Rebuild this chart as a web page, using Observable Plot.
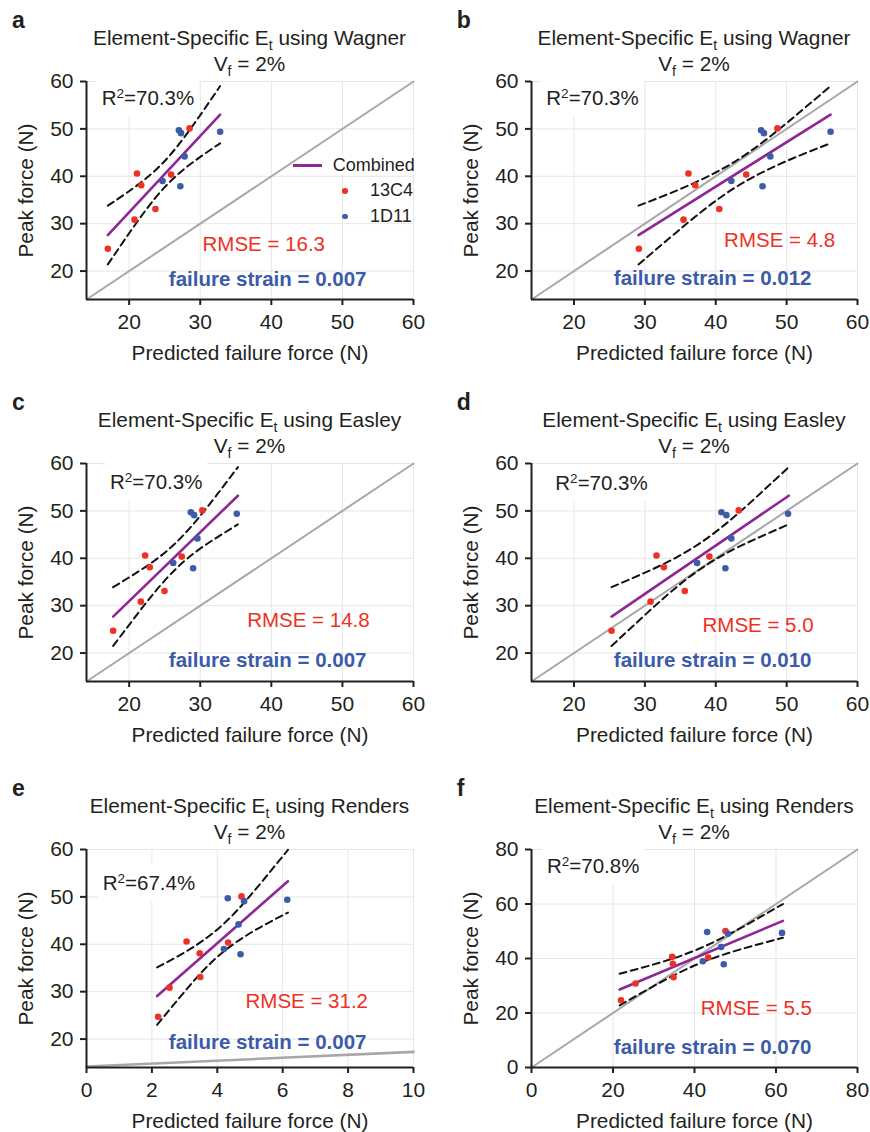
<!DOCTYPE html>
<html><head><meta charset="utf-8">
<script src="https://cdn.jsdelivr.net/npm/d3@7"></script>
<script src="https://cdn.jsdelivr.net/npm/@observablehq/plot@0.6"></script>
<style>
body{margin:0;background:#fff;font-family:"Liberation Sans",Arial,Helvetica,sans-serif;color:#231f20}
#fig{position:relative;width:870px;height:1132px;overflow:hidden;background:#fff}
.abs{position:absolute;white-space:nowrap}
.lbl{font-weight:bold;font-size:23px;line-height:23px}
.ttl{font-size:20.8px;line-height:21px;transform:translateX(-50%)}
.r2{font-size:20.5px;line-height:20px;background:#fff;padding:9px 5px 8px 5px}
.leg{font-size:18px;line-height:18px}
sub{font-size:0.68em;line-height:0;vertical-align:-0.32em}
sup{font-size:0.66em;line-height:0;vertical-align:0.5em}
</style></head><body><div id="fig"></div>
<script>
// ---- shared measured peak force (y) ----
const peak13C4 = [24.7, 30.85, 40.6, 38.1, 33.1, 40.35, 50.1];
const peak1D11 = [39.0, 37.9, 44.2, 49.7, 49.1, 49.4];

// ---- predicted failure force (x) per panel ----
const predA13C4 = [17.0, 20.75, 21.1, 21.7, 23.7, 25.9, 28.5];
const predA1D11 = [24.7, 27.2, 27.8, 27.0, 27.3, 32.8];
const predB13C4 = [29.15, 35.45, 36.15, 37.1, 40.5, 44.3, 48.7];
const predB1D11 = [42.2, 46.6, 47.7, 46.4, 46.8, 56.2];
const predC13C4 = [17.75, 21.64, 22.25, 22.9, 24.97, 27.4, 30.3];
const predC1D11 = [26.2, 29.0, 29.6, 28.67, 29.14, 35.14];
const predD13C4 = [25.3, 30.8, 31.64, 32.68, 35.63, 39.1, 43.24];
const predD1D11 = [37.37, 41.36, 42.2, 40.8, 41.5, 50.2];
const predE13C4 = [2.19, 2.54, 3.06, 3.46, 3.48, 4.33, 4.74];
const predE1D11 = [4.2, 4.71, 4.65, 4.32, 4.82, 6.14];
const predF13C4 = [21.96, 25.55, 34.53, 34.69, 34.86, 43.35, 47.6];
const predF1D11 = [42.04, 47.18, 46.53, 43.1, 48.2, 61.47];

// ---- combined fit lines ----
const fitAX = [17.0, 32.8], fitAY = [27.6, 53.0];
const fitBX = [29.1, 56.2], fitBY = [27.6, 53.0];
const fitCX = [17.75, 35.3], fitCY = [27.7, 53.2];
const fitDX = [25.3, 50.3], fitDY = [27.7, 53.2];
const fitEX = [2.16, 6.16], fitEY = [29.07, 53.3];
const fitFX = [21.63, 61.7], fitFY = [28.6, 53.8];

// ---- confidence band curves (dashed) ----
const ciAX = [17.0, 19.6, 22.3, 24.9, 27.5, 30.2, 32.8];
const ciAUp = [33.8, 36.44, 39.46, 43.06, 47.73, 53.34, 59.04];
const ciALo = [21.4, 27.12, 32.78, 37.54, 41.23, 44.30, 46.96];
const ciBX = [29.1, 33.6, 38.2, 42.65, 47.1, 51.7, 56.2];
const ciBUp = [33.8, 36.44, 39.46, 43.06, 47.73, 53.34, 59.04];
const ciBLo = [21.4, 27.12, 32.78, 37.54, 41.23, 44.30, 46.96];
const ciCX = [17.75, 20.68, 23.6, 26.53, 29.45, 32.38, 35.3];
const ciCUp = [33.9, 36.61, 39.54, 43.21, 47.95, 53.47, 59.24];
const ciCLo = [21.5, 27.29, 32.86, 37.69, 41.45, 44.43, 47.16];
const ciDX = [25.3, 29.47, 33.63, 37.8, 41.97, 46.13, 50.3];
const ciDUp = [33.9, 36.61, 39.54, 43.21, 47.95, 53.47, 59.24];
const ciDLo = [21.5, 27.29, 32.86, 37.69, 41.45, 44.43, 47.16];
const ciEX = [2.16, 2.83, 3.49, 4.16, 4.83, 5.49, 6.16];
const ciEUp = [35.13, 37.61, 40.44, 44.09, 48.85, 54.25, 59.92];
const ciELo = [23.01, 28.61, 33.86, 38.27, 41.59, 44.27, 46.68];
const ciFX = [21.63, 28.31, 34.99, 41.67, 48.34, 55.02, 61.7];
const ciFUp = [34.4, 37.12, 40.14, 43.94, 48.78, 54.26, 59.99];
const ciFLo = [22.8, 28.48, 33.86, 38.46, 42.02, 44.94, 47.61];

// ---- reference (grey) lines ----
const refAX = [14, 60], refAY = [14, 60];
const refEX = [0, 10], refEY = [14.2, 17.3];
const refFX = [0, 80], refFY = [0, 80];

// ---- axes ----
const domain1460 = [14, 60];
const ticks2060 = [20, 30, 40, 50, 60];
const ticksE = [0, 2, 4, 6, 8, 10];
const ticksF = [0, 20, 40, 60, 80];

// ---- texts ----
const panelLetters = ["a", "b", "c", "d", "e", "f"];
const methods = ["Wagner", "Wagner", "Easley", "Easley", "Renders", "Renders"];
const r2Values = ["70.3%", "70.3%", "70.3%", "70.3%", "67.4%", "70.8%"];
const rmseValues = ["16.3", "4.8", "14.8", "5.0", "31.2", "5.5"];
const strainValues = ["0.007", "0.012", "0.007", "0.010", "0.007", "0.070"];
const seriesNames = ["Combined", "13C4", "1D11"];

// ---- styling ----
const RED = "#ee3124", BLUE = "#3c5ba9", PURPLE = "#8e2795", GREY = "#a7a7a7", INK = "#231f20", GRID = "#e6e6e6";
const FONT = '"Liberation Sans", Arial, Helvetica, sans-serif';

const panels = [
  {p13: predA13C4, p1D: predA1D11, fx: fitAX, fy: fitAY, cx: ciAX, cu: ciAUp, cl: ciALo, rx: refAX, ry: refAY, xd: domain1460, yd: domain1460, xt: ticks2060, yt: ticks2060},
  {p13: predB13C4, p1D: predB1D11, fx: fitBX, fy: fitBY, cx: ciBX, cu: ciBUp, cl: ciBLo, rx: refAX, ry: refAY, xd: domain1460, yd: domain1460, xt: ticks2060, yt: ticks2060},
  {p13: predC13C4, p1D: predC1D11, fx: fitCX, fy: fitCY, cx: ciCX, cu: ciCUp, cl: ciCLo, rx: refAX, ry: refAY, xd: domain1460, yd: domain1460, xt: ticks2060, yt: ticks2060},
  {p13: predD13C4, p1D: predD1D11, fx: fitDX, fy: fitDY, cx: ciDX, cu: ciDUp, cl: ciDLo, rx: refAX, ry: refAY, xd: domain1460, yd: domain1460, xt: ticks2060, yt: ticks2060},
  {p13: predE13C4, p1D: predE1D11, fx: fitEX, fy: fitEY, cx: ciEX, cu: ciEUp, cl: ciELo, rx: refEX, ry: refEY, xd: [0, 10], yd: domain1460, xt: ticksE, yt: ticks2060, refW: 2.6},
  {p13: predF13C4, p1D: predF1D11, fx: fitFX, fy: fitFY, cx: ciFX, cu: ciFUp, cl: ciFLo, rx: refFX, ry: refFY, xd: [0, 80], yd: [0, 80], xt: ticksF, yt: ticksF}
];

// layout (pixels)
const colSvgLeft = [0, 435], colML = [86, 96], colMR = [22, 13];
const rowPlotTop = [81, 463, 849];
const MT = 25, MB = 64, SVGH = 307;
const rmsePos = [[116, 169.7], [192.6, 165.7], [160.7, 163.4], [171, 168.4], [159, 158.4], [169.3, 165.7]];
const strainPos = [[82.3, 204], [82.3, 203], [82.3, 203.4], [82.3, 203.4], [82.3, 199], [82.3, 204]];
const r2Pos = [[15.7, 24], [15.3, 24], [24, 26], [24.3, 26.7], [16.7, 40.7], [16, 24]];

const fig = document.getElementById("fig");
const base = (F, L) => (L - 1.117 * F) / 2 + 0.905 * F;

function addDiv(html, cls, left, top) {
  const d = document.createElement("div");
  d.className = "abs " + cls;
  d.innerHTML = html;
  d.style.left = left + "px";
  d.style.top = top + "px";
  fig.appendChild(d);
  return d;
}

panels.forEach((P, i) => {
  const col = i % 2, row = Math.floor(i / 2);
  const svgLeft = colSvgLeft[col], mL = colML[col], mR = colMR[col];
  const plotTop = rowPlotTop[row];
  const frameLeft = svgLeft + mL;
  const plotW = 435 - mL - mR;
  const cxCenter = frameLeft + plotW / 2;

  const pts = [
    ...P.p13.map((x, k) => ({x, y: peak13C4[k], s: "13C4"})),
    ...P.p1D.map((x, k) => ({x, y: peak1D11[k], s: "1D11"}))
  ];
  const fit = P.fx.map((x, k) => ({x, y: P.fy[k]}));
  const up = P.cx.map((x, k) => ({x, y: P.cu[k]}));
  const lo = P.cx.map((x, k) => ({x, y: P.cl[k]}));
  const ref = P.rx.map((x, k) => ({x, y: P.ry[k]}));

  const svg = Plot.plot({
    width: 435, height: SVGH,
    marginLeft: mL, marginRight: mR, marginTop: MT, marginBottom: MB,
    x: {domain: P.xd},
    y: {domain: P.yd},
    style: {fontFamily: FONT, fontSize: "21px", color: INK, background: "transparent", overflow: "visible"},
    marks: [
      Plot.gridX(P.xt, {stroke: GRID, strokeOpacity: 1, strokeWidth: 1}),
      Plot.gridY(P.yt, {stroke: GRID, strokeOpacity: 1, strokeWidth: 1}),
      Plot.line(ref, {x: "x", y: "y", stroke: GREY, strokeWidth: P.refW || 2}),
      Plot.line(up, {x: "x", y: "y", stroke: "#111", strokeWidth: 2, strokeDasharray: "7,4.5", curve: "natural"}),
      Plot.line(lo, {x: "x", y: "y", stroke: "#111", strokeWidth: 2, strokeDasharray: "7,4.5", curve: "natural"}),
      Plot.line(fit, {x: "x", y: "y", stroke: PURPLE, strokeWidth: 2.6}),
      Plot.dot(pts, {x: "x", y: "y", r: 3.3, fill: d => d.s === "13C4" ? RED : BLUE, stroke: "none"}),
      Plot.ruleX([P.xd[0]], {stroke: INK, strokeWidth: 2}),
      Plot.ruleY([P.yd[0]], {stroke: INK, strokeWidth: 2}),
      Plot.axisX(P.xt, {tickSize: 6, tickPadding: 9, strokeWidth: 2, stroke: INK, label: null}),
      Plot.axisY(P.yt, {tickSize: 6, tickPadding: 7, strokeWidth: 2, stroke: INK, label: null}),
      Plot.text(["Predicted failure force (N)"], {text: d => d, frameAnchor: "bottom", textAnchor: "middle", lineAnchor: "bottom", dy: 60, fontSize: 20.8, fill: INK}),
      Plot.text(["Peak force (N)"], {text: d => d, frameAnchor: "left", textAnchor: "middle", lineAnchor: "bottom", rotate: -90, dx: -54, fontSize: 20.8, fill: INK}),
      Plot.text([`RMSE = ${rmseValues[i]}`], {text: d => d, frameAnchor: "top-left", textAnchor: "start", lineAnchor: "bottom", dx: rmsePos[i][0], dy: rmsePos[i][1], fontSize: 20.5, fill: RED}),
      Plot.text([`failure strain = ${strainValues[i]}`], {text: d => d, frameAnchor: "top-left", textAnchor: "start", lineAnchor: "bottom", dx: strainPos[i][0], dy: strainPos[i][1], fontSize: 20.5, fontWeight: "bold", fill: BLUE})
    ]
  });
  svg.style.position = "absolute";
  svg.style.left = svgLeft + "px";
  svg.style.top = (plotTop - MT) + "px";
  svg.style.maxWidth = "none";
  fig.appendChild(svg);

  // panel letter
  addDiv(panelLetters[i], "lbl", svgLeft + (col ? 21.7 : 12), plotTop - 52.5 - base(23, 23));
  // title lines
  addDiv(`Element-Specific E<sub>t</sub> using ${methods[i]}`, "ttl", cxCenter, plotTop - 36.5 - base(20.8, 21));
  addDiv(`V<sub>f</sub> = 2%`, "ttl", cxCenter, plotTop - 10.5 - base(20.8, 21));
  // R^2 box
  addDiv(`R<sup>2</sup>=${r2Values[i]}`, "r2", frameLeft + r2Pos[i][0] - 5, plotTop + r2Pos[i][1] - base(20.5, 20) - 9);
});

// legend for panel a
(function () {
  const line = document.createElement("div");
  line.className = "abs";
  Object.assign(line.style, {left: "293px", top: "163.5px", width: "29px", height: "3px", background: PURPLE});
  fig.appendChild(line);
  const t0 = addDiv(seriesNames[0], "leg", 332.7, 171.7 - base(18, 18));
  t0.style.background = "#fff";
  [[RED, 191, seriesNames[1], 196.7], [BLUE, 216.7, seriesNames[2], 222.7]].forEach(([c, cy, name, bl]) => {
    const dot = document.createElement("div");
    dot.className = "abs";
    Object.assign(dot.style, {left: (345 - 2.8) + "px", top: (cy - 2.8) + "px", width: "5.6px", height: "5.6px", borderRadius: "50%", background: c});
    fig.appendChild(dot);
    addDiv(name, "leg", 370, bl - base(18, 18));
  });
})();
</script></body></html>
